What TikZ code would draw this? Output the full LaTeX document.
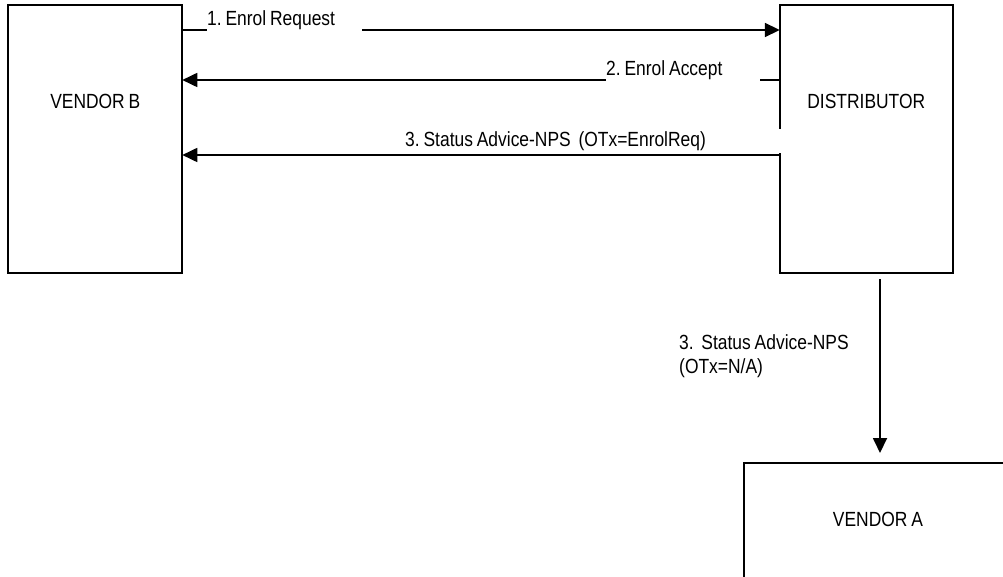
\documentclass[tikz,border=0pt]{standalone}
\usepackage{fontspec}
\setmainfont{Liberation Sans}[FakeStretch=0.85, WordSpace=0.8]
\usetikzlibrary{arrows.meta}
\begin{document}
\frenchspacing
\begin{tikzpicture}[x=1pt,y=-1pt,
  box/.style={draw, line width=1.8pt, rectangle, inner sep=0pt, outer sep=0pt},
  lbl/.style={font=\fontsize{20.5}{24}\selectfont, inner sep=0pt},
  conn/.style={line width=1.8pt, -{Triangle[length=15pt,width=14pt]}},
  tag/.style={lbl, fill=white, anchor=base west}
]
\useasboundingbox (0,0) rectangle (1003,577);
\clip (0,0) rectangle (1003,577);

% boxes
\node[box, minimum width=174pt, minimum height=268pt] (vb) at (95.3,139) {};
\node[box, minimum width=173pt, minimum height=268pt] (dist) at (866.3,139) {};
\node[box, minimum width=268pt, minimum height=200pt, anchor=north west] (va) at (744,463) {};

\node[lbl, anchor=base] (vbt) at (95.3,109) {VENDOR B};
\node[lbl, anchor=base] (distt) at (866.3,109) {DISTRIBUTOR};
\node[lbl, anchor=base] (vat) at (878,526) {VENDOR A};

% rows
\coordinate (y1) at (0,30);
\coordinate (y2) at (0,80);
\coordinate (y3) at (0,155);
\coordinate (vx) at (880,0);

\draw[conn] (vb.east |- y1) -- (dist.west |- y1);
\draw[conn] (dist.west |- y2) -- (vb.east |- y2);
\draw[conn] (dist.west |- y3) -- (vb.east |- y3);
\draw[conn, shorten <=6pt, shorten >=10pt] (dist.south -| vx) -- (va.north -| vx);

% labels
\node[tag, text depth=7pt] (t1) at (207,25.7) {\makebox[155pt][l]{1. Enrol Request}};
\node[tag, text depth=6pt] (t2) at (606,76) {\makebox[154pt][l]{2. Enrol Accept}};
\node[tag, text height=18pt, text depth=6pt] (t3) at (405,147) {\makebox[376pt][l]{3. Status Advice-NPS\ \ (OTx=EnrolReq)}};
\node[lbl, align=left, anchor=north west] (t4) at (679,334) {3.\ \ Status Advice-NPS\\(OTx=N/A)};
\end{tikzpicture}
\end{document}
